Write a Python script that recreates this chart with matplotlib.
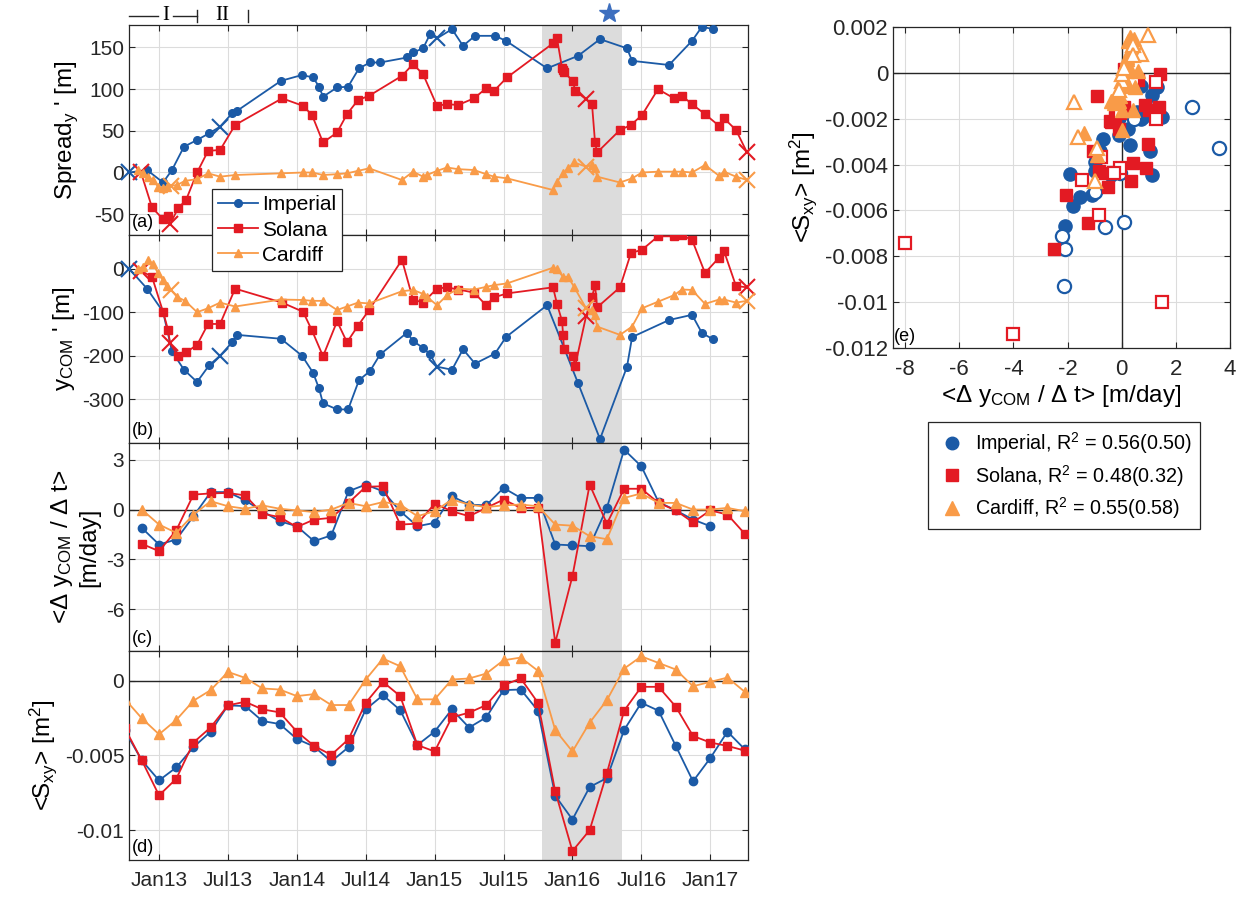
import matplotlib
matplotlib.use('Agg')
import matplotlib.pyplot as plt
import matplotlib.transforms as mtransforms
from matplotlib.lines import Line2D
from matplotlib.ticker import FuncFormatter

plt.rcParams['font.family'] = ['Liberation Sans', 'DejaVu Sans']
plt.rcParams['mathtext.default'] = 'regular'
plt.rcParams['axes.unicode_minus'] = False
plt.rcParams['font.size'] = 15

BLUE = '#1b5aa6'
RED = '#e31a23'
ORANGE = '#f99b48'

# ---- panels (a), (b): survey times in decimal years ----
t_imp = [2012.782, 2012.913, 2013.029, 2013.094, 2013.181, 2013.276, 2013.363, 2013.443,
         2013.530, 2013.566, 2013.885, 2014.038, 2014.118, 2014.161, 2014.190, 2014.292,
         2014.372, 2014.451, 2014.531, 2014.604, 2014.800, 2014.843, 2014.916, 2014.967,
         2015.017, 2015.126, 2015.206, 2015.293, 2015.438, 2015.518, 2015.816, 2016.041,
         2016.200, 2016.396, 2016.433, 2016.701, 2016.868, 2016.940, 2017.020]
spread_imp = [0, 3, -12, 3, 31, 39, 47, 55, 71, 74, 110, 117, 114, 103, 91, 102, 103, 125, 132,
              132, 138, 144, 149, 166, 161, 172, 152, 164, 164, 158, 125, 140, 160, 149, 134,
              129, 158, 175, 172]
ycom_imp = [0, -46, -99, -190, -232, -260, -222, -200, -169, -152, -161, -200, -239, -275, -309,
            -323, -323, -256, -235, -197, -147, -166, -182, -197, -225, -232, -185, -218, -195,
            -157, -84, -263, -391, -225, -157, -118, -106, -148, -162]
cross_imp = [0, 7, 24]

t_sol = [2012.869, 2012.949, 2013.029, 2013.065, 2013.080, 2013.138, 2013.196, 2013.276,
         2013.356, 2013.443, 2013.552, 2013.893, 2014.045, 2014.110, 2014.190, 2014.292,
         2014.364, 2014.444, 2014.524, 2014.763, 2014.843, 2014.916, 2015.017, 2015.090,
         2015.170, 2015.286, 2015.373, 2015.431, 2015.525, 2015.859, 2015.888, 2015.925,
         2015.932, 2015.939, 2016.004, 2016.019, 2016.099, 2016.142, 2016.164, 2016.179,
         2016.345, 2016.425, 2016.505, 2016.621, 2016.737, 2016.795, 2016.868, 2016.962,
         2017.064, 2017.100, 2017.187, 2017.267]
spread_sol = [0, -42, -56, -52, -62, -43, -33, 0, 26, 27, 57, 89, 80, 69, 36, 48, 70, 87, 92,
              116, 130, 118, 80, 82, 81, 89, 101, 98, 114, 155, 161, 125, 123, 120, 110, 98, 88,
              82, 36, 24, 51, 57, 69, 100, 89, 92, 82, 70, 56, 65, 51, 24]
ycom_sol = [-5, -19, -99, -140, -171, -200, -192, -175, -127, -127, -46, -78, -99, -142, -201,
            -121, -169, -131, -95, 20, -71, -78, -46, -43, -48, -55, -84, -66, -57, -43, -81,
            -121, -152, -185, -200, -224, -109, -65, -38, -89, -43, 36, 43, 74, 74, 76, 66,
            -10, 25, 40, -40, -43]
cross_sol = [0, 4, 36, 51]

t_car = [2012.848, 2012.884, 2012.920, 2012.956, 2012.993, 2013.029, 2013.058, 2013.087,
         2013.131, 2013.189, 2013.276, 2013.356, 2013.443, 2013.552, 2013.885, 2014.045,
         2014.110, 2014.190, 2014.292, 2014.364, 2014.444, 2014.524, 2014.763, 2014.843,
         2014.916, 2014.945, 2015.017, 2015.090, 2015.170, 2015.286, 2015.373, 2015.431,
         2015.525, 2015.859, 2015.888, 2015.932, 2015.968, 2016.012, 2016.099, 2016.142,
         2016.164, 2016.179, 2016.345, 2016.433, 2016.505, 2016.621, 2016.737, 2016.795,
         2016.868, 2016.962, 2017.064, 2017.100, 2017.187, 2017.267]
spread_car = [3, -1, -5, -9, -17, -19, -17, -16, -15, -10, -8, -1, -5, -3, -1, 0, 0, -3, -2, -1,
              2, 5, -9, 1, -5, -3, 2, 6, 4, 3, -2, -5, -7, -21, -11, -1, 5, 12, 7, 9, 5, -5,
              -12, -7, 0, 1, 1, 1, 0, 9, -4, 1, -5, -9]
ycom_car = [0, 4, 19, 11, -11, -27, -40, -49, -65, -74, -100, -91, -78, -87, -71, -72, -74,
            -74, -95, -87, -78, -80, -52, -49, -58, -65, -84, -61, -46, -48, -42, -38, -34, 2,
            -2, -19, -19, -42, -91, -95, -106, -133, -152, -133, -91, -76, -61, -48, -49, -81,
            -71, -71, -78, -74]
cross_car = [7, 38, 53]

# ---- panels (c), (d): 1.5-month averages ----
t_cd = [2012.75, 2012.875, 2013.0, 2013.125, 2013.25, 2013.375, 2013.5, 2013.625, 2013.75,
        2013.875, 2014.0, 2014.125, 2014.25, 2014.375, 2014.5, 2014.625, 2014.75, 2014.875,
        2015.0, 2015.125, 2015.25, 2015.375, 2015.5, 2015.625, 2015.75, 2015.875, 2016.0,
        2016.125, 2016.25, 2016.375, 2016.5, 2016.625, 2016.75, 2016.875, 2017.0, 2017.125,
        2017.25]
# rate of y_COM change (starts at t_cd[1])
rate_imp = [-1.1, -2.1, -1.8, -0.4, 1.05, 1.05, 0.55, -0.1, -0.7, -1.0, -1.9, -1.55, 1.1, 1.5,
            1.1, -0.1, -1.0, -0.8, 0.8, 0.3, 0.25, 1.3, 0.7, 0.7, -2.1, -2.15, -2.2, 0.1, 3.6,
            2.6, 0.45, -0.05, -0.6, -1.0]
rate_sol = [-2.06, -2.5, -1.25, 0.9, 0.97, 1.0, 0.85, -0.25, -0.45, -1.05, -0.6, -0.5, 0.4,
            1.37, 1.4, -0.9, -0.85, 0.35, -0.1, -0.4, 0.1, 0.6, 0.1, 0.1, -8.0, -4.0, 1.5,
            -0.85, 1.25, 1.25, 0.4, -0.05, -0.77, -0.05, -0.3, -1.45]
rate_car = [0, -0.9, -1.4, -0.3, 0.5, 0.2, 0.05, 0.25, 0.05, -0.05, -0.15, 0, 0.4, 0.2, 0.45,
            0.3, -0.4, -0.1, 0.6, 0.3, 0.15, 0.25, 0.3, 0.2, -0.9, -0.97, -1.6, -1.78, 0.7,
            0.97, 0.4, 0.4, 0, 0, 0.1, -0.1]
# radiation stress S_xy (starts at t_cd[0])
sxy_imp = [-0.0033, -0.00533, -0.00667, -0.0058, -0.00444, -0.0034, -0.00164, -0.00169,
           -0.00269, -0.00289, -0.00389, -0.0044, -0.0054, -0.00444, -0.00191, -0.00096,
           -0.00196, -0.0043, -0.0034, -0.00191, -0.00313, -0.00244, -0.00062, -0.00058,
           -0.002, -0.00769, -0.00929, -0.00711, -0.00651, -0.00329, -0.00147, -0.002,
           -0.00436, -0.00673, -0.00518, -0.0034, -0.00458]
sxy_sol = [-0.00314, -0.00533, -0.00767, -0.00656, -0.00413, -0.00311, -0.00164, -0.0014,
           -0.00191, -0.00211, -0.0034, -0.00436, -0.00496, -0.00391, -0.00147, -0.00007,
           -0.00102, -0.0043, -0.00473, -0.00244, -0.00213, -0.00162, -0.00029, 0.00016,
           -0.00147, -0.0074, -0.0114, -0.01, -0.00618, -0.002, -0.0004, -0.0004, -0.00173,
           -0.00369, -0.00413, -0.00436, -0.00467]
sxy_car = [-0.0012, -0.00251, -0.00358, -0.00262, -0.00133, -0.00062, 0.0006, 0.0002,
           -0.00051, -0.00058, -0.00102, -0.00089, -0.00162, -0.00162, 0.00009, 0.00149,
           0.00098, -0.00124, -0.00124, 0.00009, 0.00016, 0.00049, 0.00138, 0.00156, 0.00067,
           -0.00329, -0.00473, -0.0028, -0.00129, 0.00082, 0.00164, 0.0012, 0.00076, -0.00036,
           -0.00007, 0.00022, -0.00073]

r2_labels = ['Imperial, R$^2$ = 0.56(0.50)', 'Solana, R$^2$ = 0.48(0.32)',
             'Cardiff, R$^2$ = 0.55(0.58)']

shade = (2015.78, 2016.36)
xtick_pos = [2013.0, 2013.5, 2014.0, 2014.5, 2015.0, 2015.5, 2016.0, 2016.5, 2017.0]
xtick_lab = ['Jan13', 'Jul13', 'Jan14', 'Jul14', 'Jan15', 'Jul15', 'Jan16', 'Jul16', 'Jan17']

fig = plt.figure(figsize=(12.44, 8.97), dpi=100)
W, H = 1244, 897


def box(l, t, r, b):
    return [l / W, 1 - b / H, (r - l) / W, (b - t) / H]


ax_a = fig.add_axes(box(129, 25, 748, 235))
ax_b = fig.add_axes(box(129, 235, 748, 443))
ax_c = fig.add_axes(box(129, 443, 748, 651))
ax_d = fig.add_axes(box(129, 651, 748, 860))
ax_e = fig.add_axes(box(893, 27, 1230, 348))


def style(ax, size):
    ax.set_axisbelow(True)
    ax.grid(True, color='#dcdcdc', lw=0.8)
    ax.tick_params(direction='in', top=True, right=True, length=4, width=0.8,
                   colors='#262626', labelsize=size)
    for s in ax.spines.values():
        s.set_color('#262626')
        s.set_linewidth(0.9)


def series(ax, t, v, color, marker, ms, crosses=()):
    keep = [i for i in range(len(t)) if i not in crosses]
    ax.plot(t, v, color=color, lw=1.3, marker=marker, ms=ms, mfc=color, mec=color,
            markevery=keep, zorder=3)
    if crosses:
        ax.plot([t[i] for i in crosses], [v[i] for i in crosses], 'x', color=color,
                ms=11, mew=1.5, zorder=3, clip_on=False)


LAB = 17.5
for ax in (ax_a, ax_b, ax_c, ax_d):
    style(ax, 15)
    ax.axvspan(shade[0], shade[1], color='#dcdcdc', lw=0, zorder=0.2)
    ax.set_xlim(2012.782, 2017.274)
    ax.set_xticks(xtick_pos)
    ax.set_xticklabels(xtick_lab)
    if ax is not ax_d:
        ax.tick_params(labelbottom=False)

# (a)
series(ax_a, t_imp, spread_imp, BLUE, 'o', 5.5, cross_imp)
series(ax_a, t_sol, spread_sol, RED, 's', 5.5, cross_sol)
series(ax_a, t_car, spread_car, ORANGE, '^', 6, cross_car)
ax_a.set_ylim(-75, 177)
ax_a.set_yticks([-50, 0, 50, 100, 150])
ax_a.set_ylabel("Spread$_y$ ' [m]", fontsize=LAB, labelpad=6)

# (b)
series(ax_b, t_imp, ycom_imp, BLUE, 'o', 5.5, cross_imp)
series(ax_b, t_sol, ycom_sol, RED, 's', 5.5, cross_sol)
series(ax_b, t_car, ycom_car, ORANGE, '^', 6, cross_car)
ax_b.set_ylim(-400, 77)
ax_b.set_yticks([-300, -200, -100, 0])
ax_b.set_ylabel("y$_{COM}$ ' [m]", fontsize=LAB, labelpad=4)

# (c)
ax_c.axhline(0, color='#262626', lw=1, zorder=2)
series(ax_c, t_cd[1:1 + len(rate_imp)], rate_imp, BLUE, 'o', 6)
series(ax_c, t_cd[1:], rate_sol, RED, 's', 6)
series(ax_c, t_cd[1:], rate_car, ORANGE, '^', 6.5)
ax_c.set_ylim(-8.5, 4)
ax_c.set_yticks([-6, -3, 0, 3])
ax_c.set_ylabel('<Δ y$_{COM}$ / Δ t>\n[m/day]', fontsize=LAB, labelpad=4)

# (d)
ax_d.axhline(0, color='#262626', lw=1, zorder=2)
series(ax_d, t_cd, sxy_imp, BLUE, 'o', 6)
series(ax_d, t_cd, sxy_sol, RED, 's', 6)
series(ax_d, t_cd, sxy_car, ORANGE, '^', 6.5)
ax_d.set_ylim(-0.012, 0.002)
ax_d.set_yticks([-0.01, -0.005, 0])
ax_d.yaxis.set_major_formatter(FuncFormatter(lambda v, p: '%g' % round(v, 6)))
ax_d.set_ylabel('<S$_{xy}$> [m$^2$]', fontsize=LAB, labelpad=4)
ax_d.tick_params(axis='x', labelsize=15, pad=8)

for ax, lab in zip((ax_a, ax_b, ax_c, ax_d), 'abcd'):
    ax.text(0.004, 0.02, '(%s)' % lab, transform=ax.transAxes, fontsize=13,
            ha='left', va='bottom', zorder=5)

# period markers and star above (a)
trans = mtransforms.blended_transform_factory(ax_a.transData, ax_a.transAxes)
kw = dict(transform=trans, color='#262626', lw=1, clip_on=False)
ax_a.plot([2012.782, 2012.993], [1.043, 1.043], **kw)
ax_a.plot([2013.102, 2013.276], [1.043, 1.043], **kw)
ax_a.plot([2013.276, 2013.276], [1.012, 1.072], **kw)
ax_a.plot([2013.646, 2013.646], [1.012, 1.072], **kw)
ax_a.text(2013.047, 1.043, 'I', transform=trans, ha='center', va='center',
          family=['Liberation Serif', 'DejaVu Serif'], fontsize=15)
ax_a.text(2013.457, 1.043, 'II', transform=trans, ha='center', va='center',
          family=['Liberation Serif', 'DejaVu Serif'], fontsize=15)
ax_a.plot([2016.266], [1.058], marker='*', ms=15, color='#3d6fbf', transform=trans,
          clip_on=False, ls='none')

# legend of the time series
handles = [Line2D([], [], color=BLUE, marker='o', ms=5.5, lw=1.3),
           Line2D([], [], color=RED, marker='s', ms=5.5, lw=1.3),
           Line2D([], [], color=ORANGE, marker='^', ms=6, lw=1.3)]
leg = fig.legend(handles, ['Imperial', 'Solana', 'Cardiff'], loc='upper left',
                 bbox_to_anchor=(212 / W, 1 - 189 / H), fontsize=15, frameon=True,
                 fancybox=False, framealpha=1, edgecolor='#262626', borderaxespad=0,
                 handlelength=1.9, handletextpad=0.2, labelspacing=0.3, borderpad=0.3)
leg.get_frame().set_linewidth(0.9)

# (e) scatter of S_xy against the y_COM rate
style(ax_e, 16)
ax_e.axhline(0, color='#262626', lw=1, zorder=2)
ax_e.axvline(0, color='#262626', lw=1, zorder=2)
for rate, sxy, color, marker, ms in ((rate_imp, sxy_imp, BLUE, 'o', 9.5),
                                      (rate_sol, sxy_sol, RED, 's', 8.5),
                                      (rate_car, sxy_car, ORANGE, '^', 10)):
    tt = t_cd[1:1 + len(rate)]
    ss = sxy[1:1 + len(rate)]
    before = [i for i in range(len(rate)) if tt[i] < shade[0]]
    after = [i for i in range(len(rate)) if tt[i] >= shade[0]]
    ax_e.plot([rate[i] for i in before], [ss[i] for i in before], ls='none', marker=marker,
              ms=ms, mfc=color, mec=color, zorder=3)
    ax_e.plot([rate[i] for i in after], [ss[i] for i in after], ls='none', marker=marker,
              ms=ms, mfc='white', mec=color, mew=1.6, zorder=3)
ax_e.set_xlim(-8.45, 4)
ax_e.set_ylim(-0.012, 0.002)
ax_e.set_xticks([-8, -6, -4, -2, 0, 2, 4])
ax_e.set_yticks([-0.012, -0.01, -0.008, -0.006, -0.004, -0.002, 0, 0.002])
ax_e.yaxis.set_major_formatter(FuncFormatter(lambda v, p: '%g' % round(v, 6)))
ax_e.tick_params(axis='x', pad=8)
ax_e.set_xlabel('<Δ y$_{COM}$ / Δ t> [m/day]', fontsize=LAB, labelpad=2)
ax_e.set_ylabel('<S$_{xy}$> [m$^2$]', fontsize=LAB)
ax_e.text(0.004, 0.01, '(e)', transform=ax_e.transAxes, fontsize=13, ha='left',
          va='bottom', zorder=5)

handles_e = [Line2D([], [], ls='none', color=BLUE, marker='o', ms=9),
             Line2D([], [], ls='none', color=RED, marker='s', ms=8),
             Line2D([], [], ls='none', color=ORANGE, marker='^', ms=10)]
leg_e = fig.legend(handles_e, r2_labels, loc='upper left',
                   bbox_to_anchor=(928 / W, 1 - 422 / H), fontsize=14.2, frameon=True,
                   fancybox=False, framealpha=1, edgecolor='#262626', borderaxespad=0,
                   handlelength=1.6, handletextpad=0.4, labelspacing=0.35, borderpad=0.4)
leg_e.get_frame().set_linewidth(0.9)

fig.savefig('out.png', dpi=100)
